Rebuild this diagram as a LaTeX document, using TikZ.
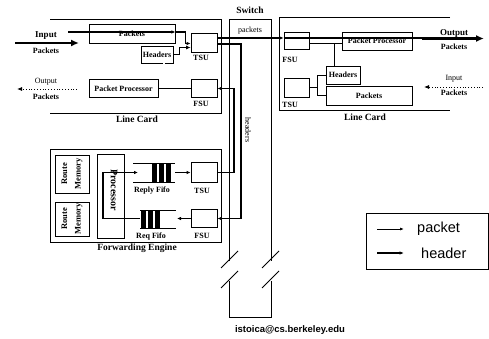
\documentclass[tikz,border=0pt]{standalone}
\usepackage{fontspec}
\setmainfont{Liberation Serif}
\newfontfamily\lsans{Liberation Sans}
\usetikzlibrary{arrows.meta}
\begin{document}
\begin{tikzpicture}[x=1pt,y=-1pt,
  box/.style={draw, line width=0.8pt, inner sep=0pt, font=\fontsize{8}{9}\selectfont\bfseries},
  lbl/.style={inner sep=0pt, font=\fontsize{8}{9}\selectfont\bfseries},
  big/.style={inner sep=0pt, font=\fontsize{9.5}{11}\selectfont\bfseries},
  plain/.style={inner sep=0pt, font=\fontsize{8}{9}\selectfont},
  wire/.style={line width=0.8pt},
  pkt/.style={line width=1.1pt, -{Latex[length=4pt,width=3.5pt]}},
  hdr/.style={line width=1.4pt, -{Latex[length=4.5pt,width=4pt]}},
  fat/.style={line width=2.6pt, -{Latex[length=8pt,width=7pt]}},
  dots/.style={line width=0.8pt, dotted, -{Latex[length=5pt,width=4pt]}},
  frame/.style={line width=0.9pt}
]
\fill[white] (0,0) rectangle (489,339);
\useasboundingbox (0,0) rectangle (489,339);

% ---------- left line card ----------
\draw[frame] (50,19) -- (221,19) -- (221,113) -- (50,113);
\node[big] (llc) at (137,119) {Line Card};
\node[box, minimum width=86pt, minimum height=19pt] (lpk) at (132,33.5) {Packets};
\node[box, minimum width=32pt, minimum height=17pt] (lhd) at (157,54.5) {Headers};
\node[box, minimum width=26pt, minimum height=19pt] (ltsu) at (204,42.5) {};
\node[lbl] (ltsul) at (201,58) {TSU};
\node[box, minimum width=26pt, minimum height=18pt] (lfsu) at (204,88.5) {};
\node[lbl] (lfsul) at (201,104) {FSU};
\node[box, minimum width=69pt, minimum height=18pt] (lpp) at (123.5,88.5) {Packet Processor};

\node[lbl, font=\fontsize{9}{10}\selectfont\bfseries] (linl) at (46,36) {Input};
\node[lbl] (linl2) at (46,51) {Packets};
\coordinate (linA) at (15,43); \coordinate (linB) at (79,43);
\draw[fat] (linA) -- (linB);
\node[plain] (loutl) at (46,82) {Output};
\node[lbl] (loutl2) at (46,97) {Packets};
\coordinate (loutA) at (77,89); \coordinate (loutB) at (17,89);
\draw[dots] (loutA) -- (loutB);

% packet / header paths in left card
\coordinate (pkin) at (68,32);
\draw[pkt] (pkin) -- (lpk.east |- pkin);
\draw[pkt] (lpk.east |- pkin) -- ++(10,0) |- ([yshift=-1pt]ltsu.west);
\draw[hdr] (lhd.east) -- ++(6,0) |- ([yshift=-5pt]ltsu.west);
\coordinate (hdb) at ([xshift=7pt]lhd.south);
\draw[wire, double, double distance=1.2pt] (hdb) -- (hdb |- lpp.east);
\draw[wire] (lpp.east) -- (lfsu.west);

% ---------- switch ----------
\node[big] (swl) at (250,10) {Switch};
\draw[frame] (229,261) -- (229,19) -- (271,19) -- (271,261);
\draw[frame] (229,281) -- (229,317) -- (271,317) -- (271,281);
\draw[frame] (221,268) -- (238,251);
\draw[frame] (221,288) -- (238,271);
\draw[frame] (262,268) -- (279,251);
\draw[frame] (262,288) -- (279,271);
\node[plain] (swpk) at (250,31) {packets};
\node[plain, rotate=-90] (swhd) at (248,130) {headers};

% ---------- right line card ----------
\draw[frame] (450,17) -- (279,17) -- (279,110) -- (450,110);
\node[big] (rlc) at (365,117) {Line Card};
\node[box, minimum width=25pt, minimum height=17pt] (rfsu) at (296.5,40.5) {};
\node[lbl] (rfsul) at (290,60) {FSU};
\node[box, minimum width=70pt, minimum height=18pt] (rpp) at (377,41) {Packet Processor};
\node[box, minimum width=34pt, minimum height=18pt] (rhd) at (343,75) {Headers};
\node[box, minimum width=86pt, minimum height=19pt] (rpk) at (369,95.5) {Packets};
\node[box, minimum width=25pt, minimum height=19pt] (rtsu) at (296.5,87.5) {};
\node[lbl] (rtsul) at (290,105) {TSU};

\node[lbl, font=\fontsize{9}{10}\selectfont\bfseries] (routl) at (454,33) {Output};
\node[lbl] (routl2) at (454,47) {Packets};
\coordinate (routA) at (422,38.5); \coordinate (routB) at (484,38.5);
\draw[fat] (routA) -- (routB);
\node[plain] (rinl) at (454,79) {Input};
\node[lbl] (rinl2) at (454,93) {Packets};
\coordinate (rinA) at (483,87); \coordinate (rinB) at (424,87);
\draw[dots] (rinA) -- (rinB);

\coordinate (rl) at ([yshift=-3pt]rfsu.east);
\draw[wire] (rl) -- (rpp.west |- rl);
\coordinate (rj) at (334,43.5);
\draw[wire] (rj) -- (rj |- rhd.north);
\coordinate (rt) at (317,87.5);
\draw[wire] (rtsu.east) -- (rt);
\draw[wire] (rhd.west) -- (rhd.west -| rt) -- (rt |- rpk.west) -- (rpk.west);

% main packet line
\coordinate (pkm) at (217,38);
\draw[pkt] (pkm) -- (rfsu.west |- pkm);
\draw[line width=1.1pt] (rfsu.west |- pkm) -- (routA |- pkm);

% ---------- forwarding engine ----------
\node[draw, frame, minimum width=171pt, minimum height=93pt, inner sep=0pt] (fe) at (135.5,195.5) {};
\node[big] (fel) at (137,248) {Forwarding Engine};
\node[box, minimum width=34pt, minimum height=38pt] (rm1) at (72,174) {};
\node[lbl, rotate=90, align=center, font=\fontsize{8.5}{13.5}\selectfont\bfseries] (rm1t) at (rm1) {Route\\Memory};
\node[box, minimum width=34pt, minimum height=34pt] (rm2) at (72,219) {};
\node[lbl, rotate=90, align=center, font=\fontsize{8.5}{13.5}\selectfont\bfseries] (rm2t) at (rm2) {Route\\Memory};
\node[box, minimum width=27pt, minimum height=84pt] (proc) at (110.5,196) {};
\node[lbl, rotate=-90, font=\fontsize{10}{11}\selectfont\bfseries] (proct) at (114,190) {Processor};
\node[box, minimum width=26pt, minimum height=20pt] (fetsu) at (204,172.5) {};
\node[lbl] (fetsul) at (202,191) {TSU};
\node[box, minimum width=26pt, minimum height=18pt] (fefsu) at (204,218.5) {};
\node[lbl] (fefsul) at (202,236) {FSU};

% reply fifo
\draw[wire] (133,163) -- (175,163);
\draw[wire] (133,182) -- (175,182);
\fill (152,163) rectangle (157,182);
\fill (159,163) rectangle (164,182);
\fill (166,163) rectangle (171,182);
\node[lbl] (repl) at (152,191) {Reply Fifo};
% req fifo
\draw[wire] (140,210) -- (176,210);
\draw[wire] (140,228) -- (176,228);
\fill (141,210) rectangle (146,228);
\fill (148,210) rectangle (153,228);
\fill (155,210) rectangle (160,228);
\node[lbl] (reql) at (151,237) {Req Fifo};

\coordinate (reqin) at (177,218.5);
\coordinate (reqout) at (140,218.5);
\coordinate (pj) at (103,218.5);
\coordinate (repin) at (138,172.5);
\coordinate (repout) at (175,172.5);
\draw[pkt] (fefsu.west) -- (reqin);
\draw[pkt] (reqout) -- (pj) |- (repin);
\draw[pkt] (repout) -- (fetsu.west);

% header wires through switch
\coordinate (wA) at (241,130);
\coordinate (wB) at (234,130);
\draw[hdr] ([yshift=-1.5pt]ltsu.east) -| (wA) |- (fefsu.east);
\draw[hdr] (fetsu.east) -| (wB) |- (lfsu.east);

% ---------- legend ----------
\node[draw, frame, minimum width=122pt, minimum height=56pt, inner sep=0pt] (leg) at (427,241) {};
\coordinate (lg1a) at (377,229); \coordinate (lg1b) at (404,229);
\coordinate (lg2a) at (377,253); \coordinate (lg2b) at (404,253);
\draw[line width=0.8pt, -{Latex[length=4pt,width=3pt]}] (lg1a) -- (lg1b);
\draw[line width=1.4pt, -{Latex[length=4.5pt,width=3.5pt]}] (lg2a) -- (lg2b);
\node[anchor=west, inner sep=0pt, font=\lsans\fontsize{14.5}{16}\selectfont] (lgt1) at (417,229) {packet};
\node[anchor=west, inner sep=0pt, font=\lsans\fontsize{14.5}{16}\selectfont] (lgt2) at (421,253) {header};

\node[inner sep=0pt, font=\lsans\bfseries\fontsize{9.5}{11}\selectfont] (mail) at (290,330) {istoica@cs.berkeley.edu};
\end{tikzpicture}
\end{document}
